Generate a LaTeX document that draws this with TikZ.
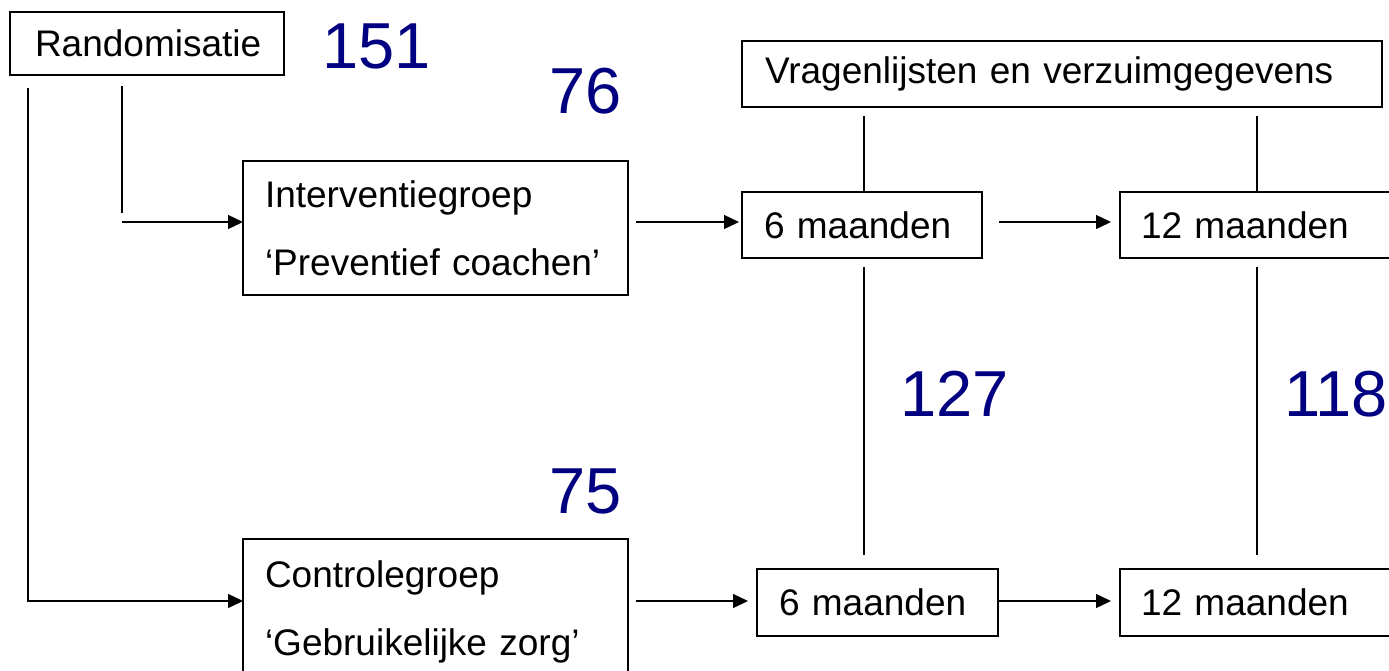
\documentclass[tikz,border=0pt]{standalone}
\usepackage{fontspec}
\setmainfont{Liberation Sans}
\usetikzlibrary{calc,arrows.meta}
\definecolor{numblue}{RGB}{0,0,128}
\begin{document}
\begin{tikzpicture}[x=1pt,y=-1pt,
  box/.style={draw,line width=1.5pt,rectangle,anchor=north west,inner ysep=0pt,outer sep=0pt,align=left,font=\fontsize{37}{68}\selectfont},
  conn/.style={line width=1.3pt},
  arr/.style={conn,-{Triangle[length=15pt,width=14pt]}},
  num/.style={anchor=base west,inner sep=0pt,text=numblue,font=\fontsize{65}{65}\selectfont}]
\clip (0,0) rectangle (1389,670);
% boxes
\node[box,text width=224pt,inner xsep=25pt,minimum height=63pt] (rnd) at (10,12) {Randomisatie};
\node[box,text width=594pt,inner xsep=23pt,minimum height=66pt] (vrg) at (742,41) {Vragenlijsten en verzuimgegevens};
\node[box,text width=341pt,inner xsep=22pt,minimum height=134pt] (ivg) at (243,161) {Interventiegroep\\‘Preventief coachen’};
\node[box,text width=196pt,inner xsep=22pt,minimum height=66pt] (i6) at (742,192) {6 maanden};
\node[box,text width=400pt,inner xsep=21pt,minimum height=66pt] (i12) at (1120,192) {12 maanden};
\node[box,text width=341pt,inner xsep=22pt,minimum height=146pt] (ctl) at (243,539) {Controlegroep\\‘Gebruikelijke zorg’};
\node[box,text width=197pt,inner xsep=22pt,minimum height=67pt] (c6) at (757,569) {6 maanden};
\node[box,text width=400pt,inner xsep=21pt,minimum height=67pt] (c12) at (1120,569) {12 maanden};
% numbers
\node[num] (n151) at (322,68) {151};
\node[num] (n76) at (549,113) {76};
\node[num] (n127) at (900,416) {127};
\node[num] (n118) at (1284,416) {118};
\node[num] (n75) at (549,513) {75};
% connectors
\draw[arr] ($(rnd.south west)+(18,13)$) |- ($(ctl.north west)+(0,62)$);
\coordinate (b2) at ($(rnd.south west)+(112,11)$);
\draw[conn] (b2) -- ++(0,127);
\draw[arr] ($(ivg.west)+(-121,-6)$) -- ($(ivg.west)+(0,-6)$);
\draw[arr] ($(ivg.east)+(8,-6)$) -- ($(i6.west)+(-3,-3)$);
\draw[arr] ($(i6.east)+(17,-3)$) -- ($(i12.west)+(-9,-3)$);
\draw[arr] ($(ctl.north east)+(8,62)$) -- ($(c6.west)+(-9,-1.5)$);
\draw[arr] ($(c6.east)+(0,-1.5)$) -- ($(c12.west)+(-9,-1.5)$);
\draw[conn] ($(vrg.south west)+(122,9)$) -- ($(i6.north west)+(122,0)$);
\draw[conn] ($(vrg.south west)+(515,9)$) -- ($(i12.north west)+(137,0)$);
\draw[conn] ($(i6.south west)+(122,9)$) -- ($(c6.north west)+(107,-14)$);
\draw[conn] ($(i12.south west)+(137,9)$) -- ($(c12.north west)+(137,-14)$);
\end{tikzpicture}
\end{document}
